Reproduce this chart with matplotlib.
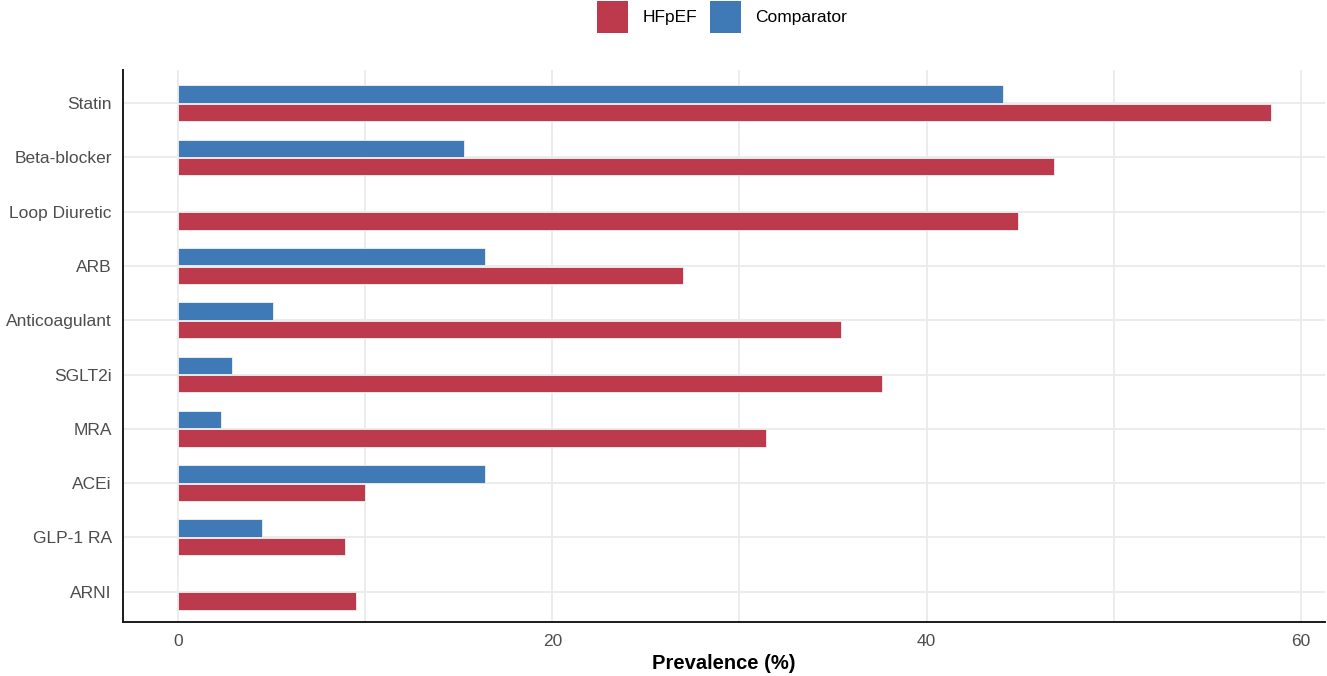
import matplotlib.pyplot as plt
import numpy as np
from matplotlib.patches import Patch

plt.rcParams['font.family'] = ['Liberation Sans', 'DejaVu Sans']

# Medication classes, top to bottom
drugs = ['Statin', 'Beta-blocker', 'Loop Diuretic', 'ARB', 'Anticoagulant',
         'SGLT2i', 'MRA', 'ACEi', 'GLP-1 RA', 'ARNI']
hfpef = [58.4, 46.8, 44.9, 27.0, 35.4, 37.6, 31.4, 10.0, 8.9, 9.5]
comparator = [44.1, 15.3, 0.0, 16.4, 5.1, 2.9, 2.3, 16.4, 4.5, 0.0]

red = '#BC3A4B'
blue = '#3F7AB6'

fig = plt.figure(figsize=(13.27, 6.76), dpi=100)
ax = fig.add_axes([0.0927, 0.0799, 0.906, 0.8165])

y = np.arange(len(drugs))[::-1]
h = 0.32
ax.barh(y + 0.17, comparator, height=h, color=blue, edgecolor='#f2f2f2', linewidth=0.6, zorder=3)
ax.barh(y - 0.17, hfpef, height=h, color=red, edgecolor='#f2f2f2', linewidth=0.6, zorder=3)

ax.set_yticks(y)
ax.set_yticklabels(drugs)
ax.set_xticks([0, 20, 40, 60])
ax.set_xticks([10, 30, 50], minor=True)
ax.set_xlim(-2.94, 61.3)
ax.set_ylim(-0.56, 9.61)

ax.grid(True, which='both', axis='x', color='#ebebeb', linewidth=1.3, zorder=0)
ax.grid(True, axis='y', color='#ebebeb', linewidth=1.3, zorder=0)
ax.set_axisbelow(True)

for s in ['top', 'right']:
    ax.spines[s].set_visible(False)
for s in ['left', 'bottom']:
    ax.spines[s].set_color('#1a1a1a')
    ax.spines[s].set_linewidth(1.4)

ax.tick_params(axis='both', which='both', length=0, labelsize=12.5, labelcolor='#4d4d4d')
ax.tick_params(axis='x', pad=9)
ax.tick_params(axis='y', pad=8)

ax.set_xlabel('Prevalence (%)', fontsize=14.5, fontweight='bold', labelpad=3)

handles = [Patch(facecolor=red, label='HFpEF'), Patch(facecolor=blue, label='Comparator')]
fig.legend(handles=handles, loc='upper center', bbox_to_anchor=(0.544, 1.022), ncol=2,
           frameon=False, fontsize=12.5, handlelength=1.8, handleheight=2.5,
           columnspacing=0.75, handletextpad=0.8)

fig.savefig('out.png', dpi=100)
